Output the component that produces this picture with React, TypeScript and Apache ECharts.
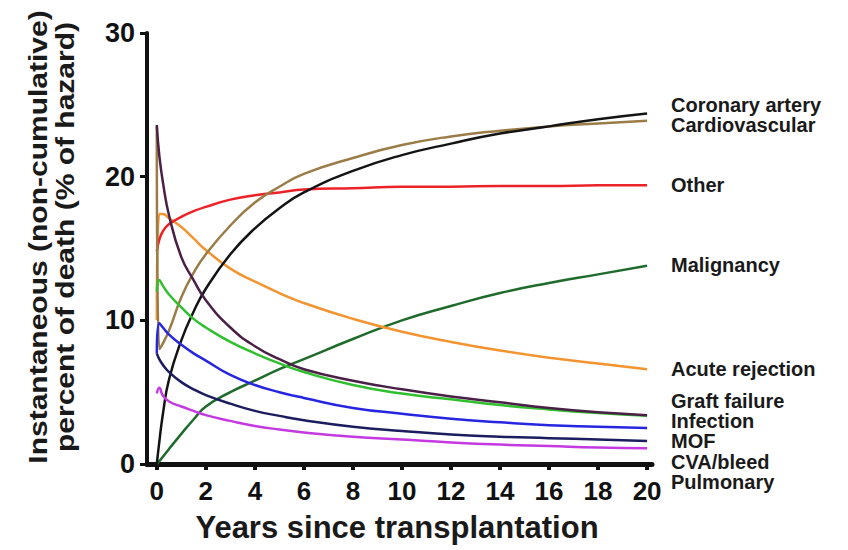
import React, { useEffect, useRef } from "react";
import * as echarts from "echarts";

const years = [0, 0.1, 0.25, 0.5, 1, 1.5, 2, 3, 4, 5, 6, 8, 10, 12, 14, 16, 18, 20];
const xTickValues = [0, 2, 4, 6, 8, 10, 12, 14, 16, 18, 20];

const coronary = [0, 1.5, 3.5, 5.9, 8.6, 10.6, 12.2, 14.6, 16.4, 17.8, 18.9, 20.4, 21.5, 22.3, 23.0, 23.5, 24.0, 24.4];
const cardiovascular = [23.5, 8.0, 8.4, 9.3, 11.6, 13.3, 14.6, 16.6, 18.2, 19.3, 20.2, 21.3, 22.2, 22.8, 23.2, 23.5, 23.7, 23.9];
const other = [14.8, 15.6, 16.2, 16.7, 17.2, 17.6, 17.9, 18.4, 18.7, 18.9, 19.1, 19.2, 19.3, 19.3, 19.35, 19.35, 19.4, 19.4];
const malignancy = [0, 0.2, 0.5, 1.05, 2.1, 3.1, 4.0, 5.0, 5.8, 6.6, 7.3, 8.7, 10.0, 11.0, 11.9, 12.6, 13.2, 13.8];
const acuteRejection = [10.0, 17.4, 17.4, 17.1, 16.5, 15.7, 14.9, 13.6, 12.7, 11.9, 11.2, 10.1, 9.2, 8.5, 7.9, 7.4, 7.0, 6.6];
const graftFailure = [23.6, 21.5, 19.6, 17.3, 14.4, 12.8, 11.4, 9.5, 8.2, 7.3, 6.6, 5.8, 5.2, 4.7, 4.3, 3.9, 3.6, 3.4];
const infection = [12.0, 12.8, 12.4, 11.8, 10.9, 10.1, 9.5, 8.5, 7.7, 7.0, 6.4, 5.5, 4.9, 4.5, 4.1, 3.8, 3.55, 3.35];
const mof = [7.7, 9.8, 9.5, 9.0, 8.3, 7.7, 7.2, 6.2, 5.5, 5.0, 4.6, 3.9, 3.5, 3.15, 2.9, 2.7, 2.6, 2.5];
const cvaBleed = [7.7, 7.3, 6.9, 6.4, 5.7, 5.2, 4.8, 4.2, 3.7, 3.35, 3.05, 2.6, 2.3, 2.05, 1.9, 1.8, 1.7, 1.6];
const pulmonary = [4.9, 5.3, 4.75, 4.35, 4.0, 3.7, 3.4, 3.0, 2.65, 2.4, 2.2, 1.9, 1.7, 1.5, 1.35, 1.25, 1.15, 1.1];

const seriesNames = [
  "Coronary artery",
  "Cardiovascular",
  "Other",
  "Malignancy",
  "Acute rejection",
  "Graft failure",
  "Infection",
  "MOF",
  "CVA/bleed",
  "Pulmonary",
];
const seriesValues = [coronary, cardiovascular, other, malignancy, acuteRejection, graftFailure, infection, mof, cvaBleed, pulmonary];
const seriesColors = ["#141414", "#9a7c46", "#ec2229", "#1f6b2c", "#f39430", "#4a2046", "#2fbf2f", "#2626e0", "#1c1c5e", "#c43ae0"];

// label vertical positions (pixels) for the right-hand annotations
const labelY = [105, 125, 185, 265, 369, 401, 421, 441, 462, 482];

const FONT = '"Liberation Sans", Arial, Helvetica, sans-serif';

export default function App() {
  const ref = useRef<HTMLDivElement>(null);
  useEffect(() => {
    if (!ref.current) return;
    const chart = echarts.init(ref.current, undefined, { renderer: "svg" });
    const drawOrder = [3, 4, 2, 1, 0, 6, 5, 7, 8, 9];
    const series = drawOrder.map((i) => ({
      name: seriesNames[i],
      type: "line",
      data: years.map((x, k) => [x, seriesValues[i][k]]),
      showSymbol: false,
      smooth: 0.5,
      lineStyle: { color: seriesColors[i], width: 2.5 },
      itemStyle: { color: seriesColors[i] },
      z: 2,
    }));
    const labels = seriesNames.map((n, i) => ({
      type: "text",
      x: 671,
      y: labelY[i],
      style: {
        text: n,
        font: `bold 20px ${FONT}`,
        lineHeight: 20,
        fill: "#1a1a1a",
        textAlign: "left",
        textVerticalAlign: "middle",
      },
    }));
    chart.setOption({
      animation: false,
      backgroundColor: "#ffffff",
      grid: { left: 147, right: 196, top: 33, bottom: 86, containLabel: false },
      xAxis: {
        type: "value",
        min: -0.4,
        max: 20.2,
        axisLine: { show: true, onZero: false, lineStyle: { color: "#111", width: 5 } },
        axisTick: { show: true, length: 6, customValues: xTickValues, lineStyle: { color: "#111", width: 4 } },
        axisLabel: {
          customValues: xTickValues,
          color: "#111",
          fontSize: 26,
          fontWeight: "bold",
          fontFamily: FONT,
          margin: 14,
        },
        splitLine: { show: false },
      },
      yAxis: {
        type: "value",
        min: 0,
        max: 30,
        interval: 10,
        axisLine: { show: true, onZero: false, lineStyle: { color: "#111", width: 4 } },
        axisTick: { show: true, length: 7, lineStyle: { color: "#111", width: 3 } },
        axisLabel: {
          color: "#111",
          fontSize: 27,
          fontWeight: "bold",
          fontFamily: FONT,
          margin: 12,
        },
        splitLine: { show: false },
      },
      series,
      graphic: [
        ...labels,
        {
          type: "text",
          x: 52,
          y: 237,
          rotation: Math.PI / 2,
          scaleX: 1.2,
          style: {
            text: "Instantaneous (non-cumulative)\npercent of death (% of hazard)",
            font: `bold 25px ${FONT}`,
            lineHeight: 27,
            fill: "#1a1a1a",
            textAlign: "center",
            textVerticalAlign: "middle",
          },
        },
        {
          type: "text",
          x: 397,
          y: 527,
          style: {
            text: "Years since transplantation",
            font: `bold 31px ${FONT}`,
            fill: "#1a1a1a",
            textAlign: "center",
            textVerticalAlign: "middle",
          },
        },
      ],
    });
    return () => chart.dispose();
  }, []);
  return <div ref={ref} style={{ position: "fixed", left: 0, top: 0, width: 848, height: 550 }} />;
}
